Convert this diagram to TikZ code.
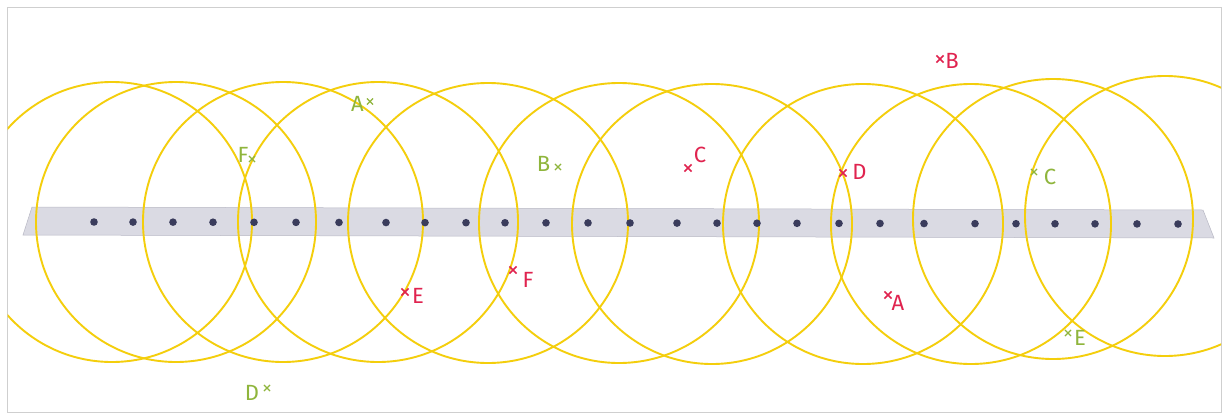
\documentclass[tikz,border=0pt]{standalone}
\usepackage{fontspec}
\setmainfont{Fira Sans}
\usetikzlibrary{shapes.misc}
\definecolor{ringyellow}{HTML}{F4CE0C}
\definecolor{bandfill}{HTML}{DADAE3}
\definecolor{bandedge}{HTML}{B8B8C4}
\definecolor{dotcol}{HTML}{3A3C5C}
\definecolor{redmark}{HTML}{E0234F}
\definecolor{greenmark}{HTML}{8FB53C}
\definecolor{framegray}{HTML}{CFCFCF}
\begin{document}
\begin{tikzpicture}[x=1pt,y=-1pt,
  ring/.style={draw=ringyellow, line width=1.9pt},
  sensor/.style={fill=dotcol},
  redx/.style={shape=cross out, draw=redmark, line width=1.6pt, minimum size=5.5pt, inner sep=0pt},
  greenx/.style={shape=cross out, draw=greenmark, line width=1.1pt, minimum size=5pt, inner sep=0pt},
  redtxt/.style={text=redmark, inner sep=0pt, font=\fontsize{22}{26}\selectfont},
  greentxt/.style={text=greenmark, inner sep=0pt, font=\fontsize{22}{26}\selectfont},
]
\useasboundingbox (0,0) rectangle (1225,415);
\fill[white] (0,0) rectangle (1225,415);
\draw[framegray, line width=0.7pt] (7,7.5) rectangle (1221.5,412.5);

% band
\filldraw[fill=bandfill, draw=bandedge, line width=0.5pt]
  (32,207) -- (1203,210) -- (1214,238) -- (23,235) -- cycle;

% coverage circles
\begin{scope}
\clip (7.5,8) rectangle (1221,412);
\foreach \cx/\cy in {112/222, 176/222, 283/222, 378/222, 488/223, 619/223,
                     712/224, 863/224, 971/224, 1053/219, 1165/216}
  \draw[ring] (\cx,\cy) circle[radius=140pt];
\end{scope}

% sensors
\foreach \dx in {94,133,173,213,254,296,339,386,425,466,505,546,588,630,677,717,757,797,839,880,924,975,1016,1055,1095,1137,1178}
  \fill[sensor] (\dx,{222+2*(\dx-94)/1084}) circle[radius=3.8pt];

% red marks
\node[redx] (xrB) at (940,59) {};
\node[redtxt] (rB) at (952,61) {B};
\node[redx] (xrC) at (688,168) {};
\node[redtxt] (rC) at (700,155) {C};
\node[redx] (xrD) at (843,173) {};
\node[redtxt] (rD) at (859.5,172) {D};
\node[redx] (xrE) at (405,292) {};
\node[redtxt] (rE) at (418,296) {E};
\node[redx] (xrF) at (513,270) {};
\node[redtxt] (rF) at (528,280) {F};
\node[redx] (xrA) at (888,295) {};
\node[redtxt] (rA) at (898,303) {A};

% green marks
\node[greenx] (xgA) at (370,101.5) {};
\node[greentxt] (gA) at (357.5,103.5) {A};
\node[greenx] (xgF) at (252,159) {};
\node[greentxt] (gF) at (243,155) {F};
\node[greenx] (xgB) at (558,167) {};
\node[greentxt] (gB) at (543.5,163.5) {B};
\node[greenx] (xgD) at (267,388) {};
\node[greentxt] (gD) at (252,393) {D};
\node[greenx] (xgC) at (1034,172) {};
\node[greentxt] (gC) at (1050,177) {C};
\node[greenx] (xgE) at (1068,333) {};
\node[greentxt] (gE) at (1080,338) {E};
\end{tikzpicture}
\end{document}
